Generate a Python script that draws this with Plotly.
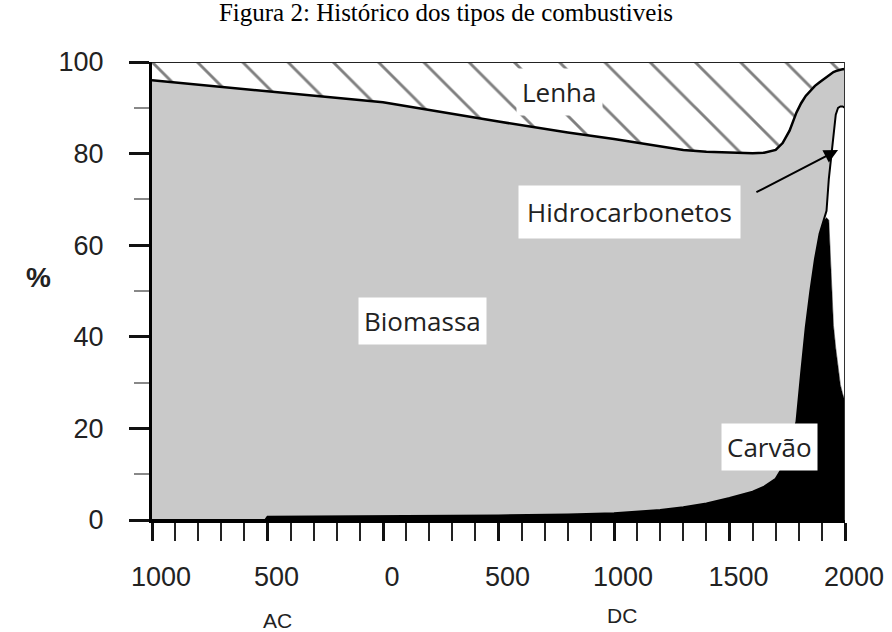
import plotly.graph_objects as go

# anos (negativos = AC)
anos = [-1000, -510, -500, 0, 500, 800, 1000, 1200, 1300, 1400, 1500, 1600, 1650, 1700,
        1730, 1760, 1790, 1810, 1830, 1850, 1870, 1890, 1900, 1910, 1920, 1930, 1940,
        1950, 1960, 1970, 1980, 1990, 2000]

# limites superiores acumulados (%) de cada faixa
limite_carvao = [0, 0, 0.7, 0.8, 1.0, 1.2, 1.5, 2.2, 2.8, 3.6, 4.8, 6.2, 7.3, 9.0,
                 11.5, 15, 21.5, 32, 42, 50, 57, 62.5, 64, 65.5, 66, 65.5, 54,
                 42.5, 37.5, 33, 29.5, 27.5, 26]
limite_hidro = [0, 0, 0.7, 0.8, 1.0, 1.2, 1.5, 2.2, 2.8, 3.6, 4.8, 6.2, 7.3, 9.0,
                11.5, 15, 21.5, 32, 42, 50, 57, 62.5, 64, 65.5, 67.5, 74.5, 79,
                84.5, 88.5, 90, 90.3, 90.3, 90]
limite_biomassa = [96, 93.7, 93.6, 91.2, 87, 84.6, 83.2, 81.5, 80.8, 80.4, 80.2, 80.1, 80.2, 80.8,
                   82.3, 85, 89, 91, 92.6, 93.8, 94.8, 95.6, 96, 96.4, 96.8, 97.2, 97.5,
                   97.8, 98, 98.2, 98.3, 98.4, 98.5]
limite_lenha = [100] * len(anos)

tick_vals = [-1000, -500, 0, 500, 1000, 1500, 2000]
tick_text = ["1000", "500", "0", "500", "1000", "1500", "2000"]

fig = go.Figure()
fig.add_trace(go.Scatter(x=anos, y=limite_carvao, mode="lines", fill="tozeroy",
                         fillcolor="black", line=dict(color="black", width=0.5), name="Carvão"))
fig.add_trace(go.Scatter(x=anos, y=limite_hidro, mode="lines", fill="tonexty",
                         fillcolor="white", line=dict(color="black", width=2), name="Hidrocarbonetos"))
fig.add_trace(go.Scatter(x=anos, y=limite_biomassa, mode="lines", fill="tonexty",
                         fillcolor="#c9c9c9", line=dict(color="black", width=2.5), name="Biomassa"))
fig.add_trace(go.Scatter(x=anos, y=limite_lenha, mode="lines", fill="tonexty",
                         fillcolor="white", line=dict(width=0), name="Lenha",
                         fillpattern=dict(shape="\\", fgcolor="black", bgcolor="white",
                                          size=32, solidity=0.09)))

lab_font = dict(family="Open Sans", size=26, color="#222")
fig.add_annotation(x=766, y=93.4, text="Lenha", showarrow=False, font=lab_font,
                   bgcolor="white", borderpad=5)
fig.add_annotation(x=1069, y=67.2, text="Hidrocarbonetos", showarrow=False, font=lab_font,
                   bgcolor="white", borderpad=8)
fig.add_annotation(x=169, y=43.4, text="Biomassa", showarrow=False, font=lab_font,
                   bgcolor="white", borderpad=5)
fig.add_annotation(x=1675, y=15.9, text="Carvão", showarrow=False, font=lab_font,
                   bgcolor="white", borderpad=5)
# seta dos hidrocarbonetos
fig.add_annotation(x=1970, y=80.8, ax=1610, ay=71.4, axref="x", ayref="y", text="",
                   showarrow=True, arrowhead=2, arrowsize=1.4, arrowwidth=2, arrowcolor="black")

fig.add_annotation(x=-0.1645, y=0.53, xref="paper", yref="paper", text="<b>%</b>",
                   xanchor="center", yanchor="middle", showarrow=False,
                   font=dict(family="Liberation Sans", size=28, color="#222"))
fig.add_annotation(x=-455, y=-0.2205, xref="x", yref="paper", text="AC", showarrow=False,
                   xanchor="center", yanchor="middle",
                   font=dict(family="Liberation Sans", size=21, color="#222"))
fig.add_annotation(x=1035, y=-0.2096, xref="x", yref="paper", text="DC", showarrow=False,
                   xanchor="center", yanchor="middle",
                   font=dict(family="Liberation Sans", size=21, color="#222"))

# moldura superior e direita
fig.add_shape(type="line", x0=-1000, x1=2000, y0=100, y1=100, line=dict(color="#222", width=2))
fig.add_shape(type="line", x0=2000, x1=2000, y0=0, y1=100, line=dict(color="#333", width=2))

tick_font = dict(family="Liberation Sans", size=27, color="#222")
fig.update_layout(
    width=892, height=632,
    margin=dict(l=152, r=47, t=62, b=112, pad=0, autoexpand=False),
    plot_bgcolor="white", paper_bgcolor="white",
    showlegend=False,
    title=dict(text="Figura 2: Histórico dos tipos de combustiveis", x=0.5, xref="container",
               y=1 - 12 / 632, yref="container", xanchor="center", yanchor="middle",
               font=dict(family="Liberation Serif", size=25, color="black")),
    xaxis=dict(range=[-1000, 2000], showgrid=False, zeroline=False, automargin=False,
               showline=True, linecolor="black", linewidth=3,
               ticks="outside", ticklen=18, tickwidth=2.5, tickcolor="#111",
               tickvals=tick_vals, ticktext=tick_text, tickfont=tick_font,
               ticklabelshift=9, ticklabelstandoff=13,
               minor=dict(ticks="outside", tick0=-1000, dtick=100, ticklen=18,
                          tickwidth=1.5, tickcolor="#222")),
    yaxis=dict(range=[0, 100], showgrid=False, zeroline=False, automargin=False,
               showline=True, linecolor="black", linewidth=3,
               ticks="outside", ticklen=20, tickwidth=2.5, tickcolor="#111",
               tickvals=[0, 20, 40, 60, 80, 100], tickfont=tick_font,
               ticklabelstandoff=20,
               minor=dict(ticks="outside", tick0=0, dtick=10, ticklen=15,
                          tickwidth=1.5, tickcolor="#888")),
)

# sem a margem padrao do body, a figura ocupa a janela inteira
fig.write_html("out.html", config={"displayModeBar": False},
               post_script="document.body.style.margin = '0';")
